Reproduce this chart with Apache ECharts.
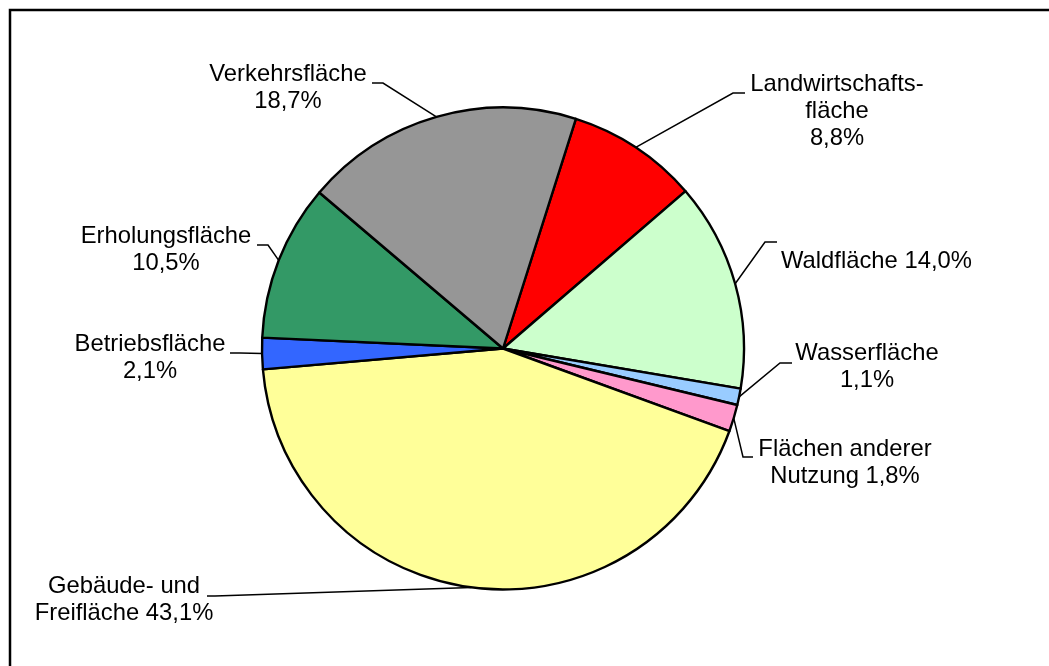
<!DOCTYPE html>
<html>
<head>
<meta charset="utf-8">
<script src="https://cdn.jsdelivr.net/npm/echarts@6/dist/echarts.min.js"></script>
<style>
  html, body { margin: 0; padding: 0; background: #fff; }
  #main { width: 1049px; height: 666px; }
</style>
</head>
<body>
<div id="main"></div>
<script>
// data, clockwise from the top
var categories = [
  'Landwirtschafts-\nfläche',
  'Waldfläche',
  'Wasserfläche',
  'Flächen anderer\nNutzung',
  'Gebäude- und\nFreifläche',
  'Betriebsfläche',
  'Erholungsfläche',
  'Verkehrsfläche'
];
var values = [8.8, 14.0, 1.1, 1.8, 43.1, 2.1, 10.5, 18.7];
var colors = ['#ff0000', '#ccffcc', '#99ccff', '#ff99cc', '#ffff99', '#3366ff', '#339966', '#969696'];

// where each label sits and how its leader line bends
var labelPlace = [
  { x: 837, y: 71, align: 'center', sep: '\n', bend: [733, 93], end: [745, 93] },
  { x: 781, y: 248, align: 'left', sep: ' ', bend: [765, 242], end: [777, 242] },
  { x: 867, y: 340, align: 'center', sep: '\n', bend: [780, 363], end: [792, 363] },
  { x: 845, y: 436, align: 'center', sep: ' ', bend: [743, 457], end: [753, 457] },
  { x: 124, y: 573, align: 'center', sep: ' ', bend: [215, 596], end: [207, 596] },
  { x: 150, y: 331, align: 'center', sep: '\n', bend: [240, 353], end: [230, 353] },
  { x: 166, y: 223, align: 'center', sep: '\n', bend: [268, 245], end: [257, 245] },
  { x: 288, y: 61, align: 'center', sep: '\n', bend: [383, 83], end: [372, 83] }
];

var chartDom = document.getElementById('main');
var myChart = echarts.init(chartDom, null, { renderer: 'canvas' });

var pieData = [];
for (var i = 0; i < categories.length; i++) {
  pieData.push({ name: categories[i], value: values[i], itemStyle: { color: colors[i] } });
}

var option = {
  animation: false,
  backgroundColor: '#fff',
  graphic: [
    {
      type: 'polyline',
      shape: { points: [[10, 666], [10, 10], [1049, 10]] },
      style: { stroke: '#000', lineWidth: 2.5, fill: null },
      silent: true
    }
  ],
  series: [
    {
      type: 'pie',
      center: [503, 348.5],
      radius: 241,
      startAngle: 72.4,
      clockwise: true,
      avoidLabelOverlap: false,
      itemStyle: { borderColor: '#000', borderWidth: 2.4 },
      emphasis: { disabled: true },
      label: {
        show: true,
        position: 'outside',
        color: '#000',
        fontFamily: 'Liberation Sans, Arial, sans-serif',
        fontSize: 23.8,
        lineHeight: 27,
        formatter: function (p) {
          var pct = p.value.toFixed(1).replace('.', ',') + '%';
          return p.name + labelPlace[p.dataIndex].sep + pct;
        }
      },
      labelLine: {
        show: true,
        length: 20,
        length2: 10,
        lineStyle: { color: '#000', width: 1.5 }
      },
      labelLayout: function (params) {
        var pl = labelPlace[params.dataIndex];
        var start = params.labelLinePoints ? params.labelLinePoints[0] : pl.bend;
        return {
          x: pl.x,
          y: pl.y,
          align: pl.align,
          verticalAlign: 'top',
          hideOverlap: false,
          moveOverlap: null,
          labelLinePoints: [start, pl.bend, pl.end]
        };
      },
      data: pieData
    }
  ]
};

option && myChart.setOption(option);
</script>
</body>
</html>
